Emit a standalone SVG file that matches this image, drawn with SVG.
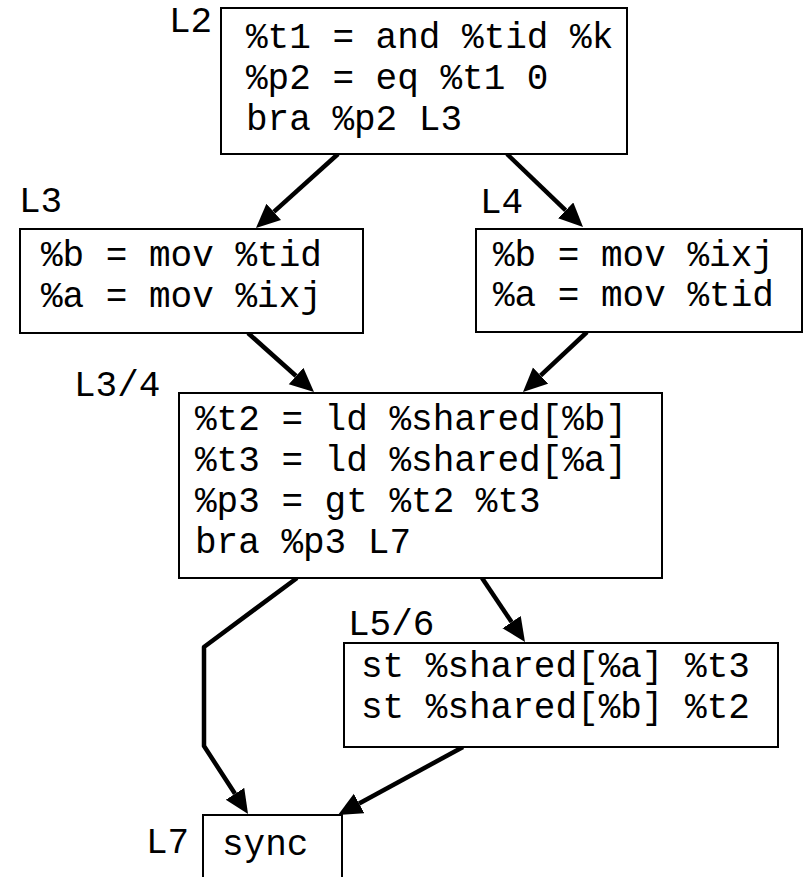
<svg xmlns="http://www.w3.org/2000/svg" width="803" height="877" viewBox="0 0 803 877">
  <style>
    .box { fill: #ffffff; stroke: #000000; stroke-width: 2; }
    .code { font-family: "Liberation Mono", "DejaVu Sans Mono", monospace; font-size: 36px; fill: #000000; }
    .edge { fill: none; stroke: #000000; stroke-width: 4.5; stroke-linejoin: round; marker-end: url(#head); }
  </style>
  <defs>
    <!-- arrowhead: base sits at the line end, tip points forward -->
    <marker id="head" markerUnits="userSpaceOnUse" markerWidth="26" markerHeight="24" refX="0" refY="11" orient="auto">
      <path d="M0,0 L24,11 L0,22 z" fill="#000000"/>
    </marker>
  </defs>
  <rect width="803" height="877" fill="#ffffff"/>

  <g id="connectors">
    <line class="edge" x1="338" y1="154" x2="273.8" y2="211.9"/>
    <line class="edge" x1="507" y1="154" x2="565.7" y2="210.4"/>
    <line class="edge" x1="248" y1="333" x2="296.1" y2="376"/>
    <line class="edge" x1="587" y1="332" x2="540.5" y2="375.6"/>
    <line class="edge" x1="482" y1="578" x2="511.6" y2="622.1"/>
    <polyline class="edge" points="297,578 204,647 204,746 235,793.8"/>
    <line class="edge" x1="463" y1="747" x2="359.1" y2="803.5"/>
  </g>

  <g id="L2">
    <rect class="box" x="221" y="8" width="406" height="146"/>
    <text class="code" x="169" y="32">L2</text>
    <text class="code" x="246" y="48">%t1 = and %tid %k</text>
    <text class="code" x="246" y="89">%p2 = eq %t1 0</text>
    <text class="code" x="246" y="130">bra %p2 L3</text>
  </g>

  <g id="L3">
    <rect class="box" x="20" y="229" width="343" height="104"/>
    <text class="code" x="19" y="212">L3</text>
    <text class="code" x="41" y="266">%b = mov %tid</text>
    <text class="code" x="41" y="307">%a = mov %ixj</text>
  </g>

  <g id="L4">
    <rect class="box" x="476" y="229" width="326" height="103"/>
    <text class="code" x="480" y="213">L4</text>
    <text class="code" x="493" y="266">%b = mov %ixj</text>
    <text class="code" x="493" y="306">%a = mov %tid</text>
  </g>

  <g id="L3_4">
    <rect class="box" x="179" y="393" width="483" height="185"/>
    <text class="code" x="74" y="396">L3/4</text>
    <text class="code" x="195" y="430">%t2 = ld %shared[%b]</text>
    <text class="code" x="195" y="471">%t3 = ld %shared[%a]</text>
    <text class="code" x="195" y="512">%p3 = gt %t2 %t3</text>
    <text class="code" x="195" y="553">bra %p3 L7</text>
  </g>

  <g id="L5_6">
    <rect class="box" x="344" y="643" width="434" height="104"/>
    <text class="code" x="348" y="635">L5/6</text>
    <text class="code" x="361" y="677">st %shared[%a] %t3</text>
    <text class="code" x="361" y="718">st %shared[%b] %t2</text>
  </g>

  <g id="L7">
    <rect class="box" x="203" y="815" width="139" height="70"/>
    <text class="code" x="146" y="853">L7</text>
    <text class="code" x="222" y="855">sync</text>
  </g>
</svg>
